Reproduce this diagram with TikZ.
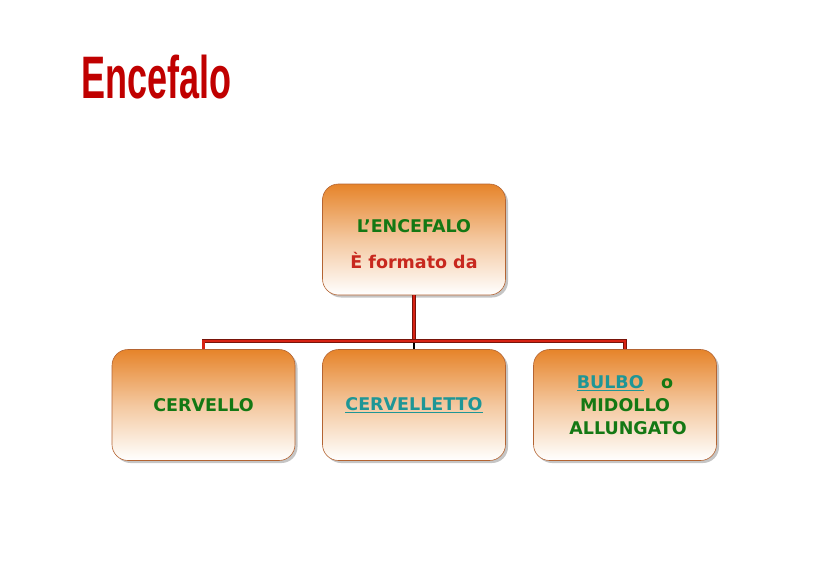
\documentclass[tikz,border=0pt]{standalone}
\usepackage{fontspec}
\setmainfont{DejaVu Sans}
\newfontfamily\titleFont{Liberation Sans}
\usetikzlibrary{shadows, positioning, calc}
\definecolor{titleRed}{RGB}{192,0,0}
\definecolor{boxOrange}{RGB}{230,132,42}
\definecolor{boxBorder}{RGB}{180,100,50}
\definecolor{textGreen}{RGB}{20,120,20}
\definecolor{textRed}{RGB}{200,40,30}
\definecolor{linkTeal}{RGB}{30,150,150}
\definecolor{busRed}{RGB}{215,35,20}
\definecolor{busDark}{RGB}{120,20,10}
\newcommand{\boxWidth}{183pt}
\newcommand{\boxHeight}{111pt}
\tikzstyle{partText}=[align=center, font=\fontsize{17.5}{23}\selectfont\bfseries, text=textGreen]
\tikzstyle{part}=[partText, draw=boxBorder, line width=0.6pt, rounded corners=16pt,
  minimum width=\boxWidth, minimum height=\boxHeight,
  top color=boxOrange, bottom color=white, middle color=boxOrange!45!white,
  drop shadow={shadow xshift=2.5pt, shadow yshift=-2.5pt, fill=black!45}]
\tikzstyle{bus}=[draw=busDark, double=busRed, double distance=2.2pt, line width=0.7pt]
\tikzstyle{stub}=[draw=black, line width=2.5pt]
\newcommand{\link}[1]{\textcolor{linkTeal}{\underline{#1}}}

\begin{document}
\begin{tikzpicture}[x=1pt, y=-1pt]
    \useasboundingbox (0,0) rectangle (828,586);
    % title
    \node[anchor=west, text=titleRed] (title) at (78,77)
      {\scalebox{0.6}[1]{\titleFont\fontsize{60}{60}\selectfont\bfseries Encefalo}};
    % boxes
    \node[part] (encefalo) at (414,239.5) {};
    \node[partText, anchor=base] (encefaloName) at (414,232) {L’ENCEFALO};
    \node[partText, anchor=base, text=textRed] (encefaloVerb) at (414,268) {È formato da};
    \node[part] (cervello) at (203.5,405) {CERVELLO};
    \node[part] (cervelletto) at (414,405) {\link{CERVELLETTO}};
    \node[part] (bulbo) at (625,405)
      {\link{BULBO}\quad o\\MIDOLLO\\\ ALLUNGATO};
    % connectors
    \coordinate (fork) at (414,341);
    \draw[stub] (fork) -- (cervelletto.north);
    \draw[bus] (encefalo.south) -- (fork);
    \draw[bus] (fork) -| (cervello.north);
    \draw[bus] (fork) -| (bulbo.north);
\end{tikzpicture}
\end{document}
